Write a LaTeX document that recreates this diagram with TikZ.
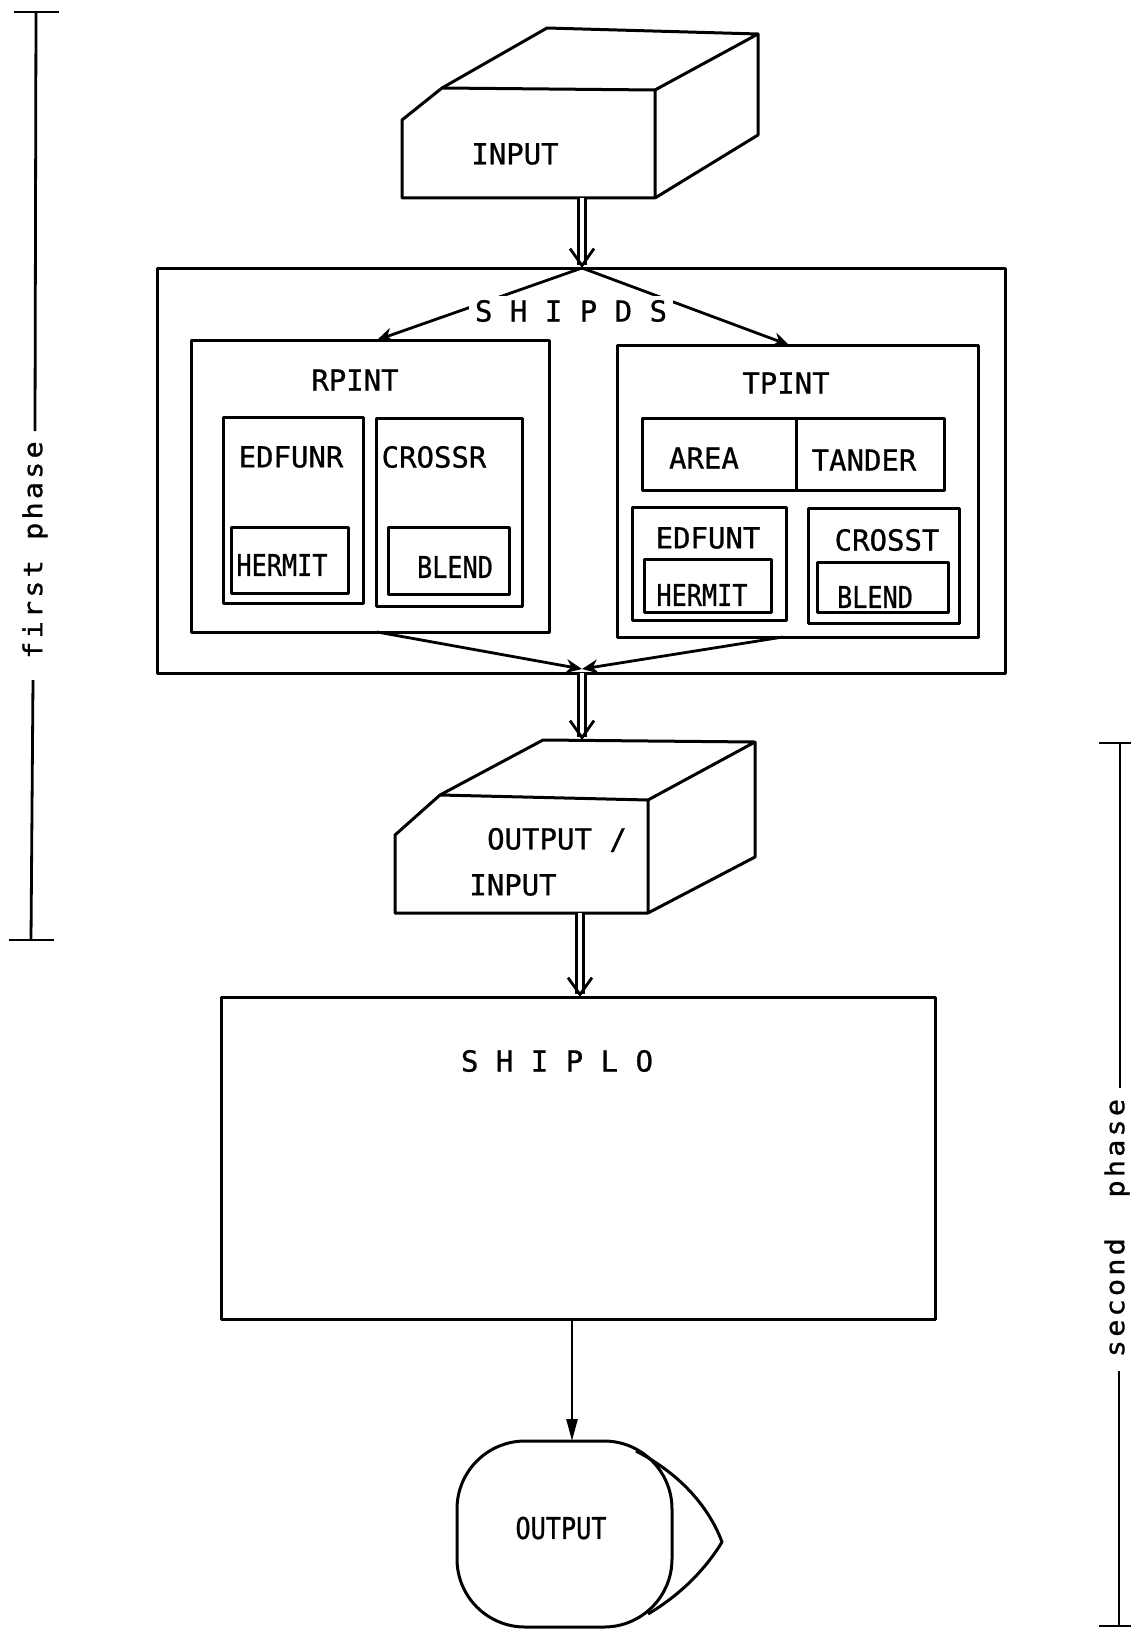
\documentclass[tikz,border=0pt]{standalone}
\usepackage{fontspec}
\newfontfamily\tw{DejaVu Sans Mono}[FakeBold=0.8]
\newfontfamily\twn{DejaVu Sans Mono}[FakeStretch=0.84,FakeBold=0.8]
\newfontfamily\twl{DejaVu Sans Mono}[FakeStretch=1.1,LetterSpace=12,FakeBold=1]
\usetikzlibrary{arrows.meta,calc}
\begin{document}
\begin{tikzpicture}[x=1pt,y=-1pt,line join=round,
  bxs/.style={draw, line width=3pt, inner sep=0pt},
  lbl/.style={font=\tw\fontsize{29}{29}\selectfont, inner sep=0pt},
  nlbl/.style={font=\twn\fontsize{30}{30}\selectfont, inner sep=0pt},
  sidelbl/.style={font=\twl\fontsize{26}{26}\selectfont, inner sep=0pt, rotate=90},
  edge3d/.style={line width=3pt, line join=round},
  dbl/.style={double, double distance=4pt, line width=3pt, shorten >=3pt},
  dbltip/.style={line width=2.8pt, -{Straight Barb[length=17pt,width=24pt]}},
  arr/.style={line width=2.8pt, -{Stealth[length=16pt,width=14pt]}},
  arrl/.style={line width=2.6pt, -{Triangle[length=22pt,width=11pt]}},
  bar/.style={line width=2.8pt}]
\useasboundingbox (0,0) rectangle (1131,1629);

% ---------- INPUT (top) ----------
\coordinate (i1) at (402,198); \coordinate (i2) at (402,120); \coordinate (i3) at (442,88);
\coordinate (i4) at (655,90);  \coordinate (i5) at (655,198);
\coordinate (i6) at (547,28);  \coordinate (i7) at (758,34);  \coordinate (i8) at (758,135);
\draw[edge3d] (i1) -- (i2) -- (i3) -- (i4) -- (i5) -- cycle;
\draw[edge3d] (i3) -- (i6) -- (i7) -- (i4);
\draw[edge3d] (i7) -- (i8) -- (i5);
\node[lbl] (input) at (515,154) {INPUT};
\coordinate (inbot) at (582,198);

% ---------- SHIPDS ----------
\node[bxs, minimum width=848pt, minimum height=405pt] (shipds) at (581,470.5) {};
\coordinate (apex) at (582,268);
\draw[dbl] (inbot) -- (apex);
\draw[dbltip] ($(apex)+(0,-3)$) -- (apex);

\node[bxs, minimum width=358pt, minimum height=292pt] (rpint) at (370,486) {};
\node[bxs, minimum width=361pt, minimum height=292pt] (tpint) at (797.5,491) {};
\coordinate (rptop) at (377,340);
\coordinate (tptop) at (789,345);
\draw[arr] (apex) -- (rptop);
\draw[arr] (apex) -- (tptop);
\node[lbl, fill=white, inner xsep=6pt, inner ysep=4pt] (shipdst) at (571,311) {S H I P D S};

\node[lbl] (rpintt) at (355,380) {RPINT};
\node[bxs, minimum width=140pt, minimum height=186pt] (edfunr) at (293,510) {};
\node[lbl] (edfunrt) at (291,457) {EDFUNR};
\node[bxs, minimum width=117pt, minimum height=66pt] (hermit1) at (289.5,560) {};
\node[nlbl] (hermit1t) at (282,565) {HERMIT};
\node[bxs, minimum width=146pt, minimum height=188pt] (crossr) at (449,512) {};
\node[lbl] (crossrt) at (434,457) {CROSSR};
\node[bxs, minimum width=121pt, minimum height=67pt] (blend1) at (448.5,560.5) {};
\node[nlbl] (blend1t) at (455,567) {BLEND};

\node[lbl] (tpintt) at (786,383) {TPINT};
\node[bxs, minimum width=154pt, minimum height=72pt] (area) at (719,454) {};
\node[bxs, minimum width=148pt, minimum height=72pt] (tander) at (870,454) {};
\node[lbl] (areat) at (704,458) {AREA};
\node[lbl] (tandert) at (864,460) {TANDER};
\node[bxs, minimum width=154pt, minimum height=113pt] (edfunt) at (709,563.5) {};
\node[lbl] (edfuntt) at (708,538) {EDFUNT};
\node[bxs, minimum width=127pt, minimum height=53pt] (hermit2) at (707.5,585.5) {};
\node[nlbl] (hermit2t) at (702,595) {HERMIT};
\node[bxs, minimum width=151pt, minimum height=115pt] (crosst) at (883.5,565.5) {};
\node[lbl] (crosstt) at (887,540) {CROSST};
\node[bxs, minimum width=131pt, minimum height=50pt] (blend2) at (882.5,587) {};
\node[nlbl] (blend2t) at (875,597) {BLEND};

\coordinate (rpbot) at (377,632);
\coordinate (tpbot) at (783,637);
\coordinate (conv) at (582,669);
\draw[arr] (rpbot) -- (conv);
\draw[arr] (tpbot) -- (conv);

% ---------- OUTPUT / INPUT ----------
\coordinate (o1) at (395,913); \coordinate (o2) at (395,835); \coordinate (o3) at (440,795);
\coordinate (o4) at (648,800); \coordinate (o5) at (648,913);
\coordinate (o6) at (543,740); \coordinate (o7) at (755,742); \coordinate (o8) at (755,857);
\draw[edge3d] (o1) -- (o2) -- (o3) -- (o4) -- (o5) -- cycle;
\draw[edge3d] (o3) -- (o6) -- (o7) -- (o4);
\draw[edge3d] (o7) -- (o8) -- (o5);
\node[lbl] (oit1) at (557,840) {OUTPUT /};
\node[lbl] (oit2) at (513,885) {INPUT};
\coordinate (shipdsbot) at (582,673);
\coordinate (oitop) at (582,740);
\draw[dbl] (shipdsbot) -- (oitop);
\draw[dbltip] ($(oitop)+(0,-3)$) -- (oitop);
\coordinate (oibot) at (580,913);

% ---------- SHIPLO ----------
\node[bxs, minimum width=714pt, minimum height=322pt] (shiplo) at (578,1158) {};
\node[lbl] (shiplot) at (557,1061) {S H I P L O};
\coordinate (shiplotop) at (580,997);
\draw[dbl] (oibot) -- (shiplotop);
\draw[dbltip] ($(shiplotop)+(0,-3)$) -- (shiplotop);

% ---------- OUTPUT terminal ----------
\node[bxs, rounded corners=68pt, minimum width=215pt, minimum height=186pt] (output) at (564.5,1534) {};
\draw[edge3d] (636,1451) .. controls (688,1478) and (712,1515) .. (722,1542)
   .. controls (705,1570) and (680,1595) .. (648,1614);
\node[nlbl] (outputt) at (561,1528) {OUTPUT};
\coordinate (shiplobot) at (572,1319);
\coordinate (outtop) at (572,1441);
\draw[arrl] (shiplobot) -- (outtop);

% ---------- phase brackets ----------
\draw[bar] (14,12) -- (59,12);
\draw[bar] (36,12) -- (35,431);
\node[sidelbl] (ph1) at (35,550) {first phase};
\draw[bar] (33,680) -- (31,940);
\draw[bar] (9,940) -- (54,940);

\draw[bar] (1099,743) -- (1131,743);
\draw[bar] (1120,743) -- (1120,1088);
\node[sidelbl] (ph2) at (1117,1228) {second\ \ phase};
\draw[bar] (1119,1371) -- (1119,1626);
\draw[bar] (1099,1626) -- (1131,1626);
\end{tikzpicture}
\end{document}
